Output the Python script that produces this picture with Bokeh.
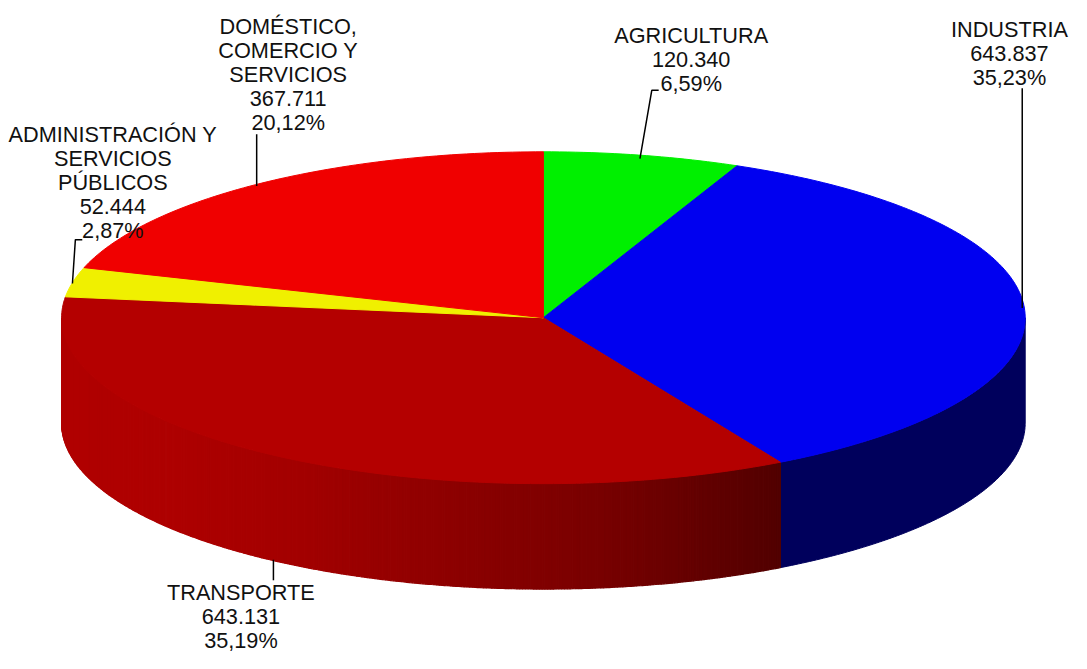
import numpy as np
from bokeh.plotting import figure
from bokeh.models import Range1d
from bokeh.embed import file_html
from bokeh.resources import INLINE
from bokeh.core.properties import value

# ---------------- data ----------------
categories = ["AGRICULTURA", "INDUSTRIA", "TRANSPORTE",
              "ADMINISTRACIÓN Y\nSERVICIOS\nPÚBLICOS",
              "DOMÉSTICO,\nCOMERCIO Y\nSERVICIOS"]
values = [120340, 643837, 643131, 52444, 367711]

# ---------------- styles / layout ----------------
top_colors = ["#00f000", "#0000f0", "#b40000", "#f0f000", "#f00000"]
industria_side = "#00005c"
# gradient anchors for the transporte side (x in px, red channel)
grad_x = [62, 170, 300, 420, 610, 790]
grad_r = [176, 174, 163, 146, 120, 82]

cx, cy, rx, ry, depth = 551.0, 325.0, 489.0, 170.0, 108.0
FONT = value("Liberation Sans")
W, H = 1071, 653
FS = "%.1fpx" % (22.0 * W / 1087.0)
LINE_STEP = 24.6

# label layout (reference pixel frame): (center x, first line y) and leader polyline
label_pos = [(701, 35.5), (1024, 29.5), (244, 606), (114, 137.5), (292, 26.5)]
leader_xs = [[649, 661, 668], [1037, 1037], [277, 277], [73, 76, 83], [260, 260]]
leader_ys = [[162, 92, 92], [315, 90], [573, 594], [290, 245, 245], [190, 137]]

p = figure(width=W, height=H, output_backend="svg", toolbar_location=None,
           x_range=Range1d(0, 1087), y_range=Range1d(669, 0),
           min_border=0, outline_line_color=None)
p.axis.visible = False
p.grid.visible = False
p.background_fill_color = "white"
p.border_fill_color = "white"


def ell(t):
    return cx + rx * np.cos(t), cy - ry * np.sin(t)


total = float(sum(values))
fracs = [v / total for v in values]
cum = np.concatenate([[0.0], np.cumsum(fracs)])
# parametric angles (clockwise from top)
angs = [np.pi / 2 - 2 * np.pi * c for c in cum]

# ---------- side faces ----------
a_end_ind = angs[2]  # end of industria slice
t = np.linspace(0.0, a_end_ind, 120)
xt, yt = ell(t)
sx = list(xt) + list(xt[::-1])
sy = list(yt) + list((yt + depth)[::-1])
p.patch(sx, sy, fill_color=industria_side, line_color=industria_side, line_width=1)

t_tr = np.linspace(a_end_ind, -np.pi, 360)
strip_xs, strip_ys, strip_cols = [], [], []
for i in range(len(t_tr) - 1):
    x0, y0 = ell(t_tr[i])
    x1, y1 = ell(t_tr[i + 1])
    xm = 0.5 * (x0 + x1)
    r = int(round(np.interp(xm, grad_x, grad_r)))
    col = "#%02x0000" % r
    strip_xs.append([x0, x1, x1, x0])
    strip_ys.append([y0, y1, y1 + depth, y0 + depth])
    strip_cols.append(col)
p.patches(strip_xs, strip_ys, fill_color=strip_cols, line_color=strip_cols, line_width=1.2)

# ---------- top faces ----------
wx, wy = [], []
for i in range(len(values)):
    n = max(int(400 * fracs[i]), 8)
    tt = np.linspace(angs[i], angs[i + 1], n)
    ex, ey = ell(tt)
    wx.append([cx] + list(ex))
    wy.append([cy] + list(ey))
p.patches(wx, wy, fill_color=top_colors, line_color=top_colors, line_width=1)

# ---------- leader lines ----------
p.multi_line(leader_xs, leader_ys, line_color="black", line_width=1.5)

# ---------- labels ----------
tx, ty, tt_ = [], [], []
for i, name in enumerate(categories):
    pct = ("%.2f" % (100 * fracs[i])).replace(".", ",") + "%"
    val = f"{values[i]:,}".replace(",", ".")
    lines = name.split("\n") + [val, pct]
    x0, y0 = label_pos[i]
    for k, ln in enumerate(lines):
        tx.append(x0)
        ty.append(y0 + k * LINE_STEP)
        tt_.append(ln)
p.text(tx, ty, text=tt_, text_font=FONT, text_font_size=FS, text_color="#111111",
       text_align="center", text_baseline="middle")

open("out.html", "w").write(file_html(p, INLINE))
